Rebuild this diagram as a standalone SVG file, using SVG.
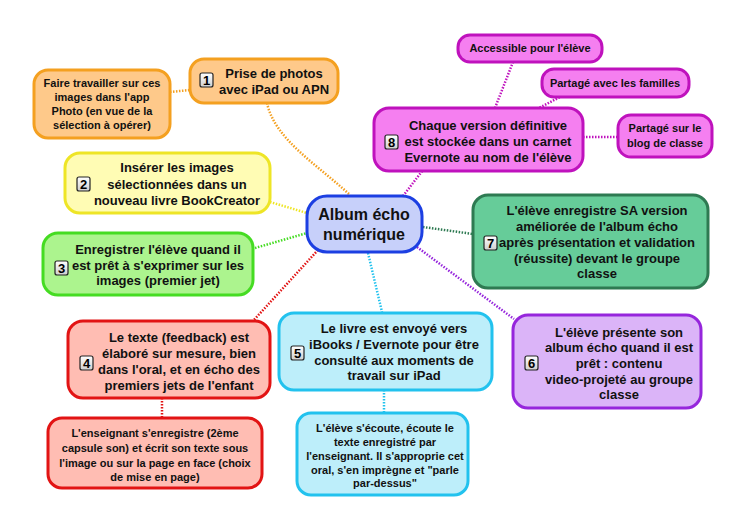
<svg xmlns="http://www.w3.org/2000/svg" width="748" height="532" viewBox="0 0 748 532">
<defs>
<linearGradient id="ig" x1="0" y1="0" x2="0" y2="1"><stop offset="0" stop-color="#ffffff"/><stop offset="1" stop-color="#cfcfcf"/></linearGradient>
</defs>
<style>
text{font-family:"Liberation Sans",Arial,sans-serif;font-weight:bold;fill:#111;text-anchor:middle}
.m{font-size:13px}
.s{font-size:11px}
.c{font-size:16px}
.n rect{stroke-width:3}
.ic rect{fill:url(#ig);stroke:#222;stroke-width:1.2}
.ic text{font-size:13px;fill:#000}
.or{fill:#fec98a;stroke:#f4a020}
.ye{fill:#fffcb4;stroke:#eee526}
.gr{fill:#acf48e;stroke:#45dc22}
.rd{fill:#ffbdb3;stroke:#e21414}
.bl{fill:#bdeefa;stroke:#22c2ee}
.pu{fill:#dbb4f8;stroke:#9626dc}
.dg{fill:#66cc99;stroke:#2e7a52}
.mg{fill:#f57ff0;stroke:#bf12bd}
.ce{fill:#c7d0fa;stroke:#1c3fe2}
#connectors path{fill:none;stroke-width:2.5;stroke-dasharray:1.5 1.5}
</style>
<g id="connectors">
<path d="M170,92 L190,90" stroke="#f4a020"/>
<path d="M267,103 C275,140 318,165 350,195" stroke="#f4a020"/>
<path d="M403,196 L423,170" stroke="#bf12bd"/>
<path d="M495,108 L513,62" stroke="#bf12bd"/>
<path d="M537,109 L560,97" stroke="#bf12bd"/>
<path d="M583,137 L617,137" stroke="#bf12bd"/>
<path d="M270,202 L307,213" stroke="#eee526"/>
<path d="M255,248 L307,233" stroke="#45dc22"/>
<path d="M318,250 L253,321" stroke="#e21414"/>
<path d="M162,398 L162,418" stroke="#e21414"/>
<path d="M368,253 L382,312" stroke="#22c2ee"/>
<path d="M384,390 L384,413" stroke="#22c2ee"/>
<path d="M417,247 L514,319" stroke="#9626dc"/>
<path d="M423,227 L473,234" stroke="#2e7a52"/>
</g>
<g id="central" class="n">
<rect class="ce" x="307" y="196" width="115" height="56" rx="20"/>
<text class="c" x="364" y="220">Album écho</text>
<text class="c" x="364" y="240">numérique</text>
</g>
<g id="node1" class="n">
<rect class="or" x="190" y="59" width="148" height="44" rx="14"/>
<g class="ic"><rect x="200" y="73" width="13" height="14" rx="2"/><text x="206.5" y="85">1</text></g>
<text class="m" x="274" y="78">Prise de photos</text>
<text class="m" x="274" y="94">avec iPad ou APN</text>
</g>
<g id="node1a" class="n">
<rect class="or" x="34" y="70" width="136" height="68" rx="14"/>
<text class="s" x="102" y="87">Faire travailler sur ces</text>
<text class="s" x="102" y="101">images dans l'app</text>
<text class="s" x="102" y="115">Photo (en vue de la</text>
<text class="s" x="102" y="129">sélection à opérer)</text>
</g>
<g id="node2" class="n">
<rect class="ye" x="65" y="153" width="205" height="60" rx="15"/>
<g class="ic"><rect x="77" y="177" width="13" height="14" rx="2"/><text x="83.5" y="189">2</text></g>
<text class="m" x="177" y="172">Insérer les images</text>
<text class="m" x="177" y="188.5">sélectionnées dans un</text>
<text class="m" x="177" y="205">nouveau livre BookCreator</text>
</g>
<g id="node3" class="n">
<rect class="gr" x="43" y="233" width="210" height="62" rx="15"/>
<g class="ic"><rect x="55" y="261" width="13" height="14" rx="2"/><text x="61.5" y="273">3</text></g>
<text class="m" x="158" y="254">Enregistrer l'élève quand il</text>
<text class="m" x="158" y="269.5">est prêt à s'exprimer sur les</text>
<text class="m" x="158" y="285">images (premier jet)</text>
</g>
<g id="node4" class="n">
<rect class="rd" x="68" y="321" width="202" height="77" rx="15"/>
<g class="ic"><rect x="80" y="356" width="13" height="14" rx="2"/><text x="86.5" y="368">4</text></g>
<text class="m" x="179" y="341.5">Le texte (feedback) est</text>
<text class="m" x="179" y="357.5">élaboré sur mesure, bien</text>
<text class="m" x="179" y="373.5">dans l'oral, et en écho des</text>
<text class="m" x="179" y="389.5">premiers jets de l'enfant</text>
</g>
<g id="node4a" class="n">
<rect class="rd" x="48" y="418" width="214" height="70" rx="14"/>
<text class="s" x="155" y="437">L'enseignant s'enregistre (2ème</text>
<text class="s" x="155" y="452">capsule son) et écrit son texte sous</text>
<text class="s" x="155" y="467">l'image ou sur la page en face (choix</text>
<text class="s" x="155" y="481">de mise en page)</text>
</g>
<g id="node5" class="n">
<rect class="bl" x="279" y="313" width="213" height="77" rx="15"/>
<g class="ic"><rect x="291" y="346" width="13" height="14" rx="2"/><text x="297.5" y="358">5</text></g>
<text class="m" x="394" y="332.5">Le livre est envoyé vers</text>
<text class="m" x="394" y="348.5">iBooks / Evernote pour être</text>
<text class="m" x="394" y="364.5">consulté aux moments de</text>
<text class="m" x="394" y="380">travail sur iPad</text>
</g>
<g id="node5a" class="n">
<rect class="bl" x="297" y="413" width="171" height="82" rx="14"/>
<text class="s" x="385" y="432">L'élève s'écoute, écoute le</text>
<text class="s" x="385" y="446">texte enregistré par</text>
<text class="s" x="385" y="460">l'enseignant. Il s'approprie cet</text>
<text class="s" x="385" y="473.5">oral, s'en imprègne et "parle</text>
<text class="s" x="385" y="487">par-dessus"</text>
</g>
<g id="node6" class="n">
<rect class="pu" x="513" y="315" width="188" height="93" rx="15"/>
<g class="ic"><rect x="525" y="356" width="13" height="14" rx="2"/><text x="531.5" y="368">6</text></g>
<text class="m" x="619" y="336.5">L'élève présente son</text>
<text class="m" x="619" y="352">album écho quand il est</text>
<text class="m" x="619" y="367.5">prêt : contenu</text>
<text class="m" x="619" y="383.5">video-projeté au groupe</text>
<text class="m" x="619" y="398.5">classe</text>
</g>
<g id="node7" class="n">
<rect class="dg" x="473" y="195" width="235" height="93" rx="15"/>
<g class="ic"><rect x="484" y="236" width="13" height="14" rx="2"/><text x="490.5" y="248">7</text></g>
<text class="m" x="597" y="214.5">L'élève enregistre SA version</text>
<text class="m" x="597" y="231">améliorée de l'album écho</text>
<text class="m" x="597" y="246.5">après présentation et validation</text>
<text class="m" x="597" y="262.5">(réussite) devant le groupe</text>
<text class="m" x="597" y="277.5">classe</text>
</g>
<g id="node8" class="n">
<rect class="mg" x="374" y="108" width="209" height="63" rx="15"/>
<g class="ic"><rect x="385" y="135" width="13" height="14" rx="2"/><text x="391.5" y="147">8</text></g>
<text class="m" x="488" y="130">Chaque version définitive</text>
<text class="m" x="488" y="146">est stockée dans un carnet</text>
<text class="m" x="488" y="162">Evernote au nom de l'élève</text>
</g>
<g id="node8a" class="n">
<rect class="mg" x="458" y="35" width="144" height="27" rx="12"/>
<text class="s" x="530" y="52">Accessible pour l'élève</text>
</g>
<g id="node8b" class="n">
<rect class="mg" x="542" y="69" width="147" height="28" rx="12"/>
<text class="s" x="615" y="87">Partagé avec les familles</text>
</g>
<g id="node8c" class="n">
<rect class="mg" x="618" y="115" width="94" height="42" rx="13"/>
<text class="s" x="665" y="132">Partagé sur le</text>
<text class="s" x="665" y="147">blog de classe</text>
</g>
</svg>
